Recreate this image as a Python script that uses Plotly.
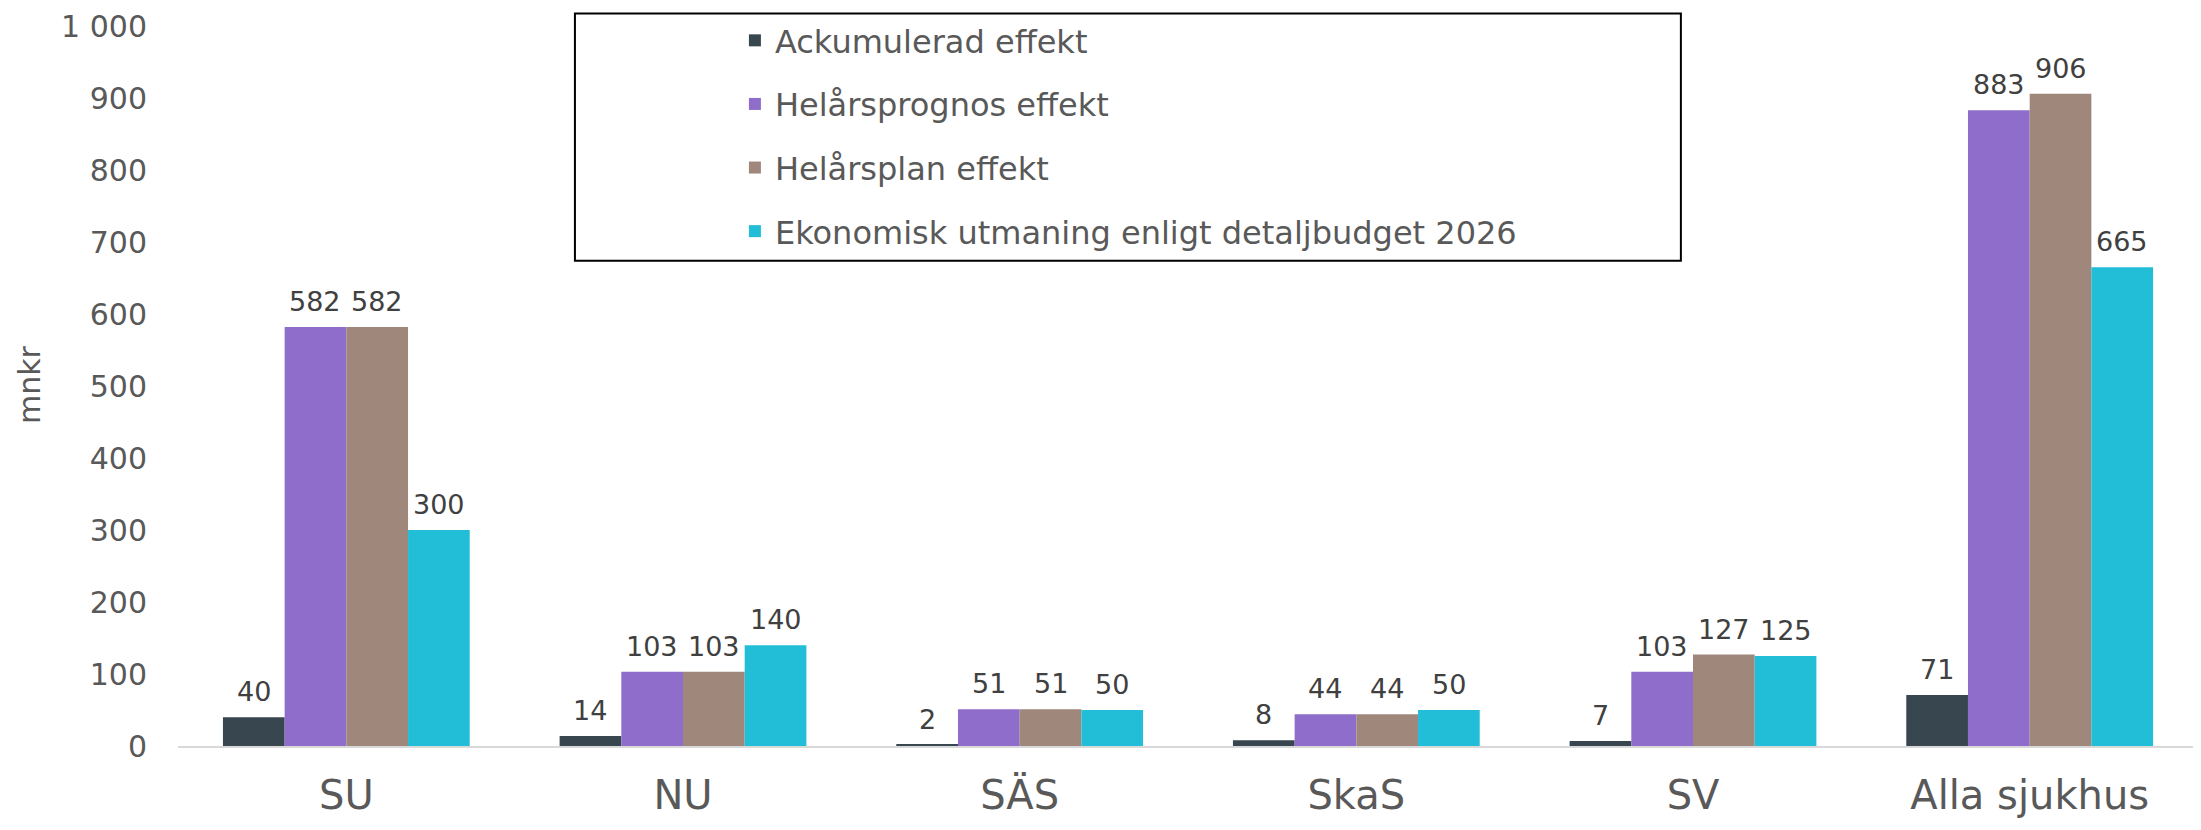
import plotly.graph_objects as go

categories = ["SU", "NU", "SÄS", "SkaS", "SV", "Alla sjukhus"]
series_names = [
    "Ackumulerad effekt",
    "Helårsprognos effekt",
    "Helårsplan effekt",
    "Ekonomisk utmaning enligt detaljbudget 2026",
]
ackumulerad = [40, 14, 2, 8, 7, 71]
prognos = [582, 103, 51, 44, 103, 883]
plan = [582, 103, 51, 44, 127, 906]
utmaning = [300, 140, 50, 50, 125, 665]
y_ticks = [0, 100, 200, 300, 400, 500, 600, 700, 800, 900, 1000]

colors = ["#37464F", "#8F6DCB", "#A0877C", "#22BED8"]
values = [ackumulerad, prognos, plan, utmaning]

BARGAP = 0.267
n_series = len(values)
bar_w = (1 - BARGAP) / n_series

fig = go.Figure()
annotations = []
for i, (name, vals, col) in enumerate(zip(series_names, values, colors)):
    fig.add_trace(go.Bar(
        x=categories, y=vals, name=name,
        marker=dict(color=col, line=dict(width=0)),
        legendgroup=f"g{i}",
    ))
    offset = (i - (n_series - 1) / 2) * bar_w
    for j, v in enumerate(vals):
        annotations.append(dict(
            x=j + offset, y=v, xref="x", yref="y", text=str(v), showarrow=False,
            xanchor="center", yanchor="bottom", yshift=8,
            font=dict(family="DejaVu Sans", size=27, color="#404040"),
        ))

annotations.append(dict(
    text="mnkr", xref="paper", yref="paper", x=-0.0732, y=0.5015, showarrow=False,
    textangle=-90, xanchor="center", yanchor="middle",
    font=dict(family="DejaVu Sans", size=30, color="#595959"),
))

fig.update_layout(
    width=2201, height=830,
    paper_bgcolor="white", plot_bgcolor="white",
    margin=dict(l=170, r=11, t=18, b=92, autoexpand=False),
    barmode="group", bargap=BARGAP, bargroupgap=0,
    separators=", ",
    font=dict(family="DejaVu Sans", color="#595959"),
    showlegend=True,
    legend=dict(
        x=0.2757, y=1.018, xanchor="left", yanchor="top",
        font=dict(family="DejaVu Sans", size=32, color="#595959"),
        tracegroupgap=19, traceorder="grouped",
        bgcolor="rgba(0,0,0,0)", borderwidth=0,
    ),
    annotations=annotations,
    shapes=[dict(type="rect", xref="paper", yref="paper",
                 x0=0.1965, x1=0.744, y0=0.674, y1=1.0172,
                 line=dict(color="black", width=2), fillcolor="rgba(0,0,0,0)", layer="above")],
)
fig.update_xaxes(
    range=[-0.5, 5.5], showgrid=False, showline=True, linecolor="#D9D9D9", linewidth=2,
    ticks="", tickfont=dict(family="DejaVu Sans", size=40, color="#595959"),
    ticklabelstandoff=13,
)
fig.update_yaxes(
    range=[0, 1000], tickvals=y_ticks, tickformat=",d", showgrid=False, zeroline=False,
    showline=False, ticks="", tickfont=dict(family="DejaVu Sans", size=30, color="#595959"),
    ticklabelstandoff=30,
)
fig.write_html("out.html")
